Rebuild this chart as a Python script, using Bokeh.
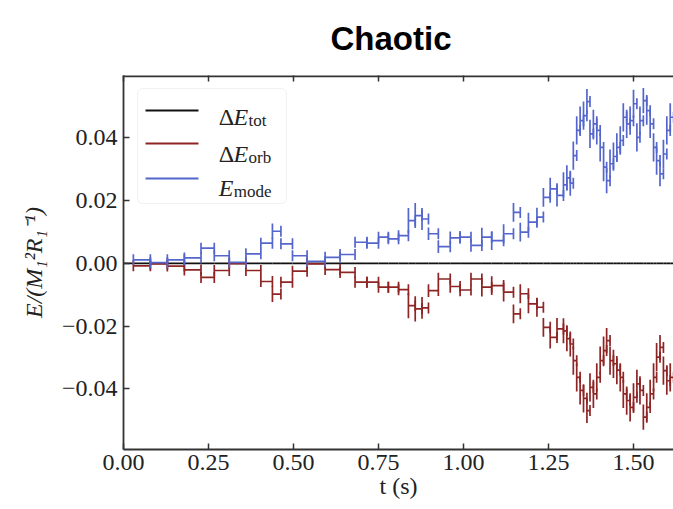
import numpy as np
from bokeh.plotting import figure
from bokeh.models import (Range1d, FixedTicker, CustomJSTickFormatter,
                          Label, BoxAnnotation)
from bokeh.embed import file_html
from bokeh.resources import INLINE

# ---------------- data ----------------
# bin edges in time (s)
t_edges = [0.029, 0.079, 0.129, 0.179, 0.228, 0.267, 0.311, 0.360, 0.404, 0.438,
           0.463, 0.497, 0.540, 0.593, 0.637, 0.681, 0.716, 0.750, 0.779, 0.809,
           0.838, 0.858, 0.878, 0.897, 0.926, 0.961, 0.990, 1.022, 1.054, 1.083,
           1.118, 1.147, 1.167, 1.191, 1.216, 1.235, 1.255, 1.275, 1.294, 1.304,
           1.314, 1.323, 1.333, 1.343, 1.353, 1.363, 1.372, 1.382, 1.392, 1.402,
           1.412, 1.421, 1.431, 1.441, 1.451, 1.461, 1.470, 1.480, 1.490, 1.500,
           1.510, 1.519, 1.529, 1.539, 1.549, 1.559, 1.568, 1.578, 1.588, 1.598,
           1.608, 1.618]

e_mode = [0.0011, 0.0002, 0.0011, 0.0017, 0.0048, 0.0024, 0.0003, 0.0030, 0.0064, 0.0102,
          0.0062, 0.0024, 0.0006, 0.0019, 0.0028, 0.0067, 0.0064, 0.0083, 0.0078, 0.0088,
          0.0136, 0.0152, 0.0141, 0.0094, 0.0053, 0.0081, 0.0083, 0.0057, 0.0083, 0.0072,
          0.0094, 0.0162, 0.0099, 0.0131, 0.0147, 0.0210, 0.0237, 0.0216, 0.0250, 0.0272,
          0.0255, 0.0343, 0.0423, 0.0454, 0.0470, 0.0515, 0.0412, 0.0444, 0.0423, 0.0369,
          0.0306, 0.0263, 0.0317, 0.0340, 0.0369, 0.0391, 0.0465, 0.0444, 0.0454, 0.0508,
          0.0401, 0.0454, 0.0518, 0.0486, 0.0444, 0.0369, 0.0327, 0.0285, 0.0348, 0.0423,
          0.0465]

e_orb = [-0.0008, -0.0002, -0.0009, -0.0021, -0.0045, -0.0023, -0.0001, -0.0023, -0.0058, -0.0098,
         -0.0060, -0.0025, -0.0002, -0.0020, -0.0029, -0.0060, -0.0060, -0.0076, -0.0076, -0.0084,
         -0.0135, -0.0145, -0.0142, -0.0087, -0.0050, -0.0074, -0.0085, -0.0050, -0.0076, -0.0071,
         -0.0092, -0.0161, -0.0097, -0.0129, -0.0140, -0.0204, -0.0236, -0.0209, -0.0215, -0.0240,
         -0.0257, -0.0310, -0.0363, -0.0405, -0.0430, -0.0469, -0.0395, -0.0416, -0.0363, -0.0310,
         -0.0278, -0.0246, -0.0310, -0.0320, -0.0340, -0.0363, -0.0416, -0.0437, -0.0459, -0.0427,
         -0.0384, -0.0405, -0.0490, -0.0459, -0.0416, -0.0363, -0.0299, -0.0268, -0.0342, -0.0374,
         -0.0363]

e_tot = [0.0, 0.0, 0.0, 0.0, 0.0, 0.0, 0.0, 0.0, 0.0, 0.0,
         0.0, 0.0, 0.0, 0.0, 0.0, 0.0, 0.0, 0.0, 0.0, 0.0,
         0.0, 0.0, 0.0, 0.0, 0.0, 0.0, 0.0, 0.0, 0.0, 0.0,
         0.0, 0.0, 0.0, 0.0, 0.0, 0.0, 0.0, 0.0, 0.0, 0.0,
         0.0, 0.0, 0.0, 0.0, 0.0, 0.0, 0.0, 0.0, 0.0, 0.0,
         0.0, 0.0, 0.0, 0.0, 0.0, 0.0, 0.0, 0.0, 0.0, 0.0,
         0.0, 0.0, 0.0, 0.0, 0.0, 0.0, 0.0, 0.0, 0.0, 0.0,
         0.0]

# vertical error (half-length) per bin, drawn at the bin's left edge
e_err = [0.0004, 0.0004, 0.0004, 0.0004, 0.0004, 0.0004, 0.0004, 0.0004, 0.0006, 0.0025,
         0.0012, 0.0012, 0.0012, 0.0012, 0.0012, 0.0015, 0.0015, 0.0015, 0.0015, 0.0015,
         0.0040, 0.0040, 0.0035, 0.0020, 0.0020, 0.0020, 0.0020, 0.0020, 0.0030, 0.0030,
         0.0030, 0.0030, 0.0030, 0.0030, 0.0030, 0.0030, 0.0035, 0.0035, 0.0040, 0.0040,
         0.0040, 0.0045, 0.0045, 0.0045, 0.0045, 0.0040, 0.0045, 0.0045, 0.0045, 0.0045,
         0.0045, 0.0040, 0.0045, 0.0045, 0.0045, 0.0045, 0.0045, 0.0045, 0.0045, 0.0045,
         0.0045, 0.0045, 0.0040, 0.0045, 0.0045, 0.0045, 0.0045, 0.0040, 0.0045, 0.0045,
         0.0045]

x_ticks = [0.0, 0.25, 0.5, 0.75, 1.0, 1.25, 1.5]
y_ticks = [-0.04, -0.02, 0.0, 0.02, 0.04]

title_text = "Chaotic"
legend_prefix = ["Δ", "Δ", ""]
legend_main = ["E", "E", "E"]
legend_sub = ["tot", "orb", "mode"]

# ---------------- styling / geometry ----------------
W, H = 673, 509
FRAME_L, FRAME_T, FRAME_B = 123, 75, 449
X_MIN, X_MAX = 0.0, (W - FRAME_L) / 340.0
Y_MIN, Y_MAX = -0.0593, 0.0598
PX_X = (W - FRAME_L) / (X_MAX - X_MIN)
PX_Y = (FRAME_B - FRAME_T) / (Y_MAX - Y_MIN)

def dx(px):
    return X_MIN + (px - FRAME_L) / PX_X

def dy(py):
    return Y_MAX - (py - FRAME_T) / PX_Y

COL_TOT = "#111111"
COL_ORB = "#8e2424"
COL_MODE = "#5466cc"
AX_COL = "#333333"
SERIF = "Liberation Serif"

p = figure(width=W, height=H, output_backend="svg", toolbar_location=None,
           x_range=Range1d(X_MIN, X_MAX), y_range=Range1d(Y_MIN, Y_MAX),
           min_border_left=FRAME_L, min_border_right=0,
           min_border_top=FRAME_T, min_border_bottom=H - FRAME_B,
           x_axis_label="t (s)", y_axis_label="E/(M₁²R₁⁻¹)")
p.background_fill_color = "white"
p.border_fill_color = "white"
p.outline_line_color = None
p.grid.visible = False

p.title.text = title_text
p.title.align = "left"
p.title.offset = 207
p.title.standoff = 34
p.title.vertical_align = "top"
p.title.text_font = "Liberation Sans"
p.title.text_font_style = "bold"
p.title.text_font_size = "33px"
p.title.text_color = "black"

fmt = CustomJSTickFormatter(code="return tick.toFixed(2).replace('-', '\u2212');")

bottom_axis = p.below[0]
left_axis = p.left[0]

for ax in [bottom_axis, left_axis]:
    ax.axis_line_color = AX_COL
    ax.axis_line_width = 1.8
    ax.major_tick_in = 6
    ax.major_tick_out = 0
    ax.major_tick_line_color = AX_COL
    ax.major_tick_line_width = 1.5
    ax.minor_tick_line_color = None
    ax.formatter = fmt
    ax.major_label_text_font = SERIF
    ax.major_label_text_font_size = "24px"
    ax.major_label_text_color = "#222222"
    ax.axis_label_text_font = SERIF
    ax.axis_label_text_font_size = "24px"
    ax.axis_label_text_font_style = "normal"
    ax.axis_label_text_color = "#222222"

bottom_axis.ticker = FixedTicker(ticks=x_ticks)
left_axis.ticker = FixedTicker(ticks=y_ticks)
bottom_axis.major_label_standoff = 5
bottom_axis.axis_label_standoff = 0
left_axis.major_label_standoff = 6
left_axis.axis_label_standoff = 12
left_axis.axis_label_text_font_style = "italic"

# top spine with inward ticks (drawn inside the frame)
top_y = dy(FRAME_T + 0.9)
p.segment(x0=[X_MIN], x1=[X_MAX], y0=[top_y], y1=[top_y],
          line_color=AX_COL, line_width=1.8, level="overlay")
p.segment(x0=x_ticks, x1=x_ticks, y0=[Y_MAX] * len(x_ticks),
          y1=[dy(FRAME_T + 6)] * len(x_ticks),
          line_color=AX_COL, line_width=1.5, level="overlay")

# ---------------- data drawing ----------------
edges = np.array(t_edges)
t0 = edges[:-1]
t1 = edges[1:]
cap = 5.5 / PX_Y
LW = 1.7

def draw_series(vals, color, with_err=True):
    v = np.array(vals)
    p.segment(x0=t0, x1=t1, y0=v, y1=v, line_color=color, line_width=LW)
    if with_err:
        err = np.maximum(np.array(e_err), cap)
        p.segment(x0=t0, x1=t0, y0=v - err, y1=v + err, line_color=color, line_width=LW)
        p.segment(x0=t1, x1=t1, y0=v - cap, y1=v + cap, line_color=color, line_width=LW)

p.segment(x0=[X_MIN], x1=[t_edges[0]], y0=[e_tot[0]], y1=[e_tot[0]],
          line_color=COL_TOT, line_width=LW)
draw_series(e_tot, COL_TOT, with_err=False)
draw_series(e_orb, COL_ORB)
draw_series(e_mode, COL_MODE)

# ---------------- legend (drawn by hand for sub-scripts) ----------------
box = BoxAnnotation(left=dx(137), right=dx(286), top=dy(88), bottom=dy(203),
                    fill_color="white", fill_alpha=0.85,
                    line_color="#d0d0d0", line_width=1, border_radius=5)
p.add_layout(box)

row_line_py = [110, 143, 178]
row_base_py = [116, 153.3, 187.3]
colors = [COL_TOT, COL_ORB, COL_MODE]
for i in range(3):
    p.line(x=[dx(145), dx(198)], y=[dy(row_line_py[i])] * 2, line_color=colors[i],
           line_width=2, level="overlay")
    xs = 218.3
    if legend_prefix[i]:
        p.add_layout(Label(x=dx(xs), y=dy(row_base_py[i]), text=legend_prefix[i],
                           text_font=SERIF, text_font_size="24px", text_color="#222222",
                           text_baseline="alphabetic", text_align="left"))
        xs += 14.7
    p.add_layout(Label(x=dx(xs), y=dy(row_base_py[i]), text=legend_main[i],
                       text_font=SERIF, text_font_size="24px", text_font_style="italic",
                       text_color="#222222", text_baseline="alphabetic", text_align="left"))
    xs += 15.0
    p.add_layout(Label(x=dx(xs), y=dy(row_base_py[i] + 3.5), text=legend_sub[i],
                       text_font=SERIF, text_font_size="17px", text_color="#222222",
                       text_baseline="alphabetic", text_align="left"))

open("out.html", "w").write(file_html(p, INLINE))
